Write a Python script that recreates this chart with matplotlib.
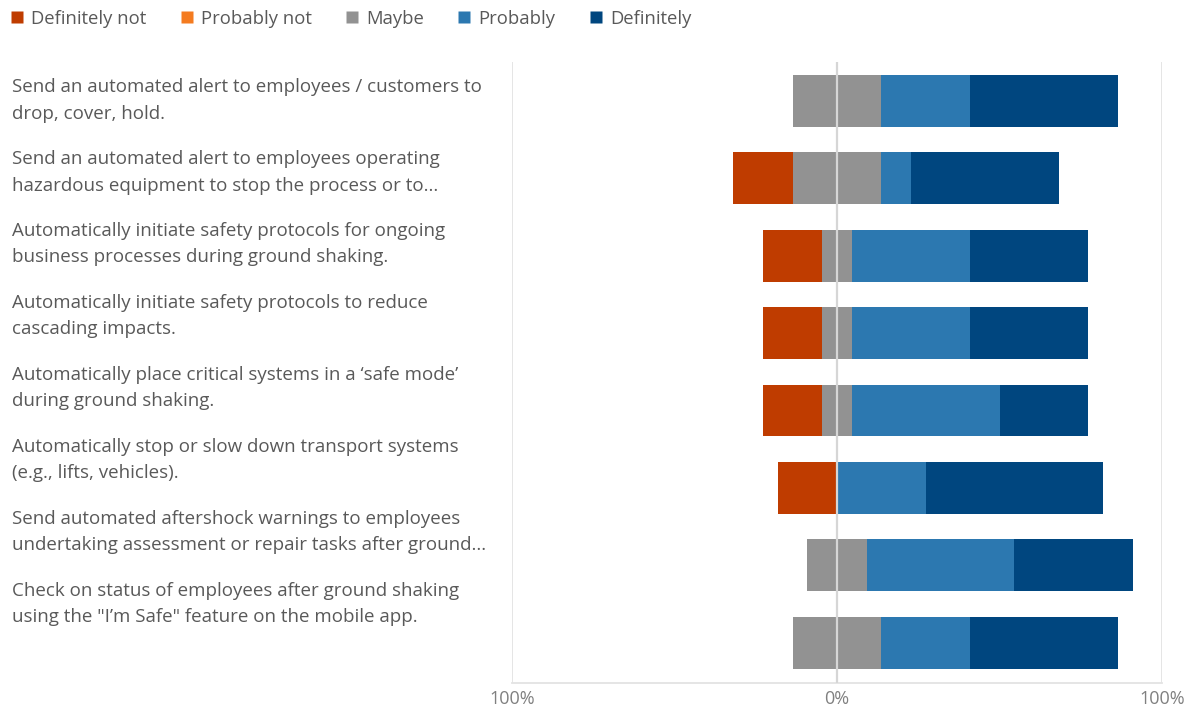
import matplotlib.pyplot as plt
from matplotlib.lines import Line2D
import numpy as np

plt.rcParams['font.family'] = ['Open Sans', 'DejaVu Sans']

# Survey items (as shown, labels already wrapped/truncated)
questions = [
    'Send an automated alert to employees / customers to\ndrop, cover, hold.',
    'Send an automated alert to employees operating\nhazardous equipment to stop the process or to...',
    'Automatically initiate safety protocols for ongoing\nbusiness processes during ground shaking.',
    'Automatically initiate safety protocols to reduce\ncascading impacts.',
    "Automatically place critical systems in a \u2018safe mode\u2019\nduring ground shaking.",
    'Automatically stop or slow down transport systems\n(e.g., lifts, vehicles).',
    'Send automated aftershock warnings to employees\nundertaking assessment or repair tasks after ground...',
    'Check on status of employees after ground shaking\nusing the "I\u2019m Safe" feature on the mobile app.',
]

# Share of responses (%), one value per bar
definitely_not = [0, 18.2, 18.2, 18.2, 18.2, 18.2, 0, 0]
probably_not = [0, 0, 0, 0, 0, 0, 0, 0]
maybe = [27.3, 27.3, 9.1, 9.1, 9.1, 0, 18.2, 27.3]
probably = [27.3, 9.1, 36.4, 36.4, 45.5, 27.3, 45.5, 27.3]
definitely = [45.5, 45.5, 36.4, 36.4, 27.3, 54.5, 36.4, 45.5]

categories = ['Definitely not', 'Probably not', 'Maybe', 'Probably', 'Definitely']
colors = ['#BF3C00', '#F47B20', '#929292', '#2C78B0', '#00467F']

fig = plt.figure(figsize=(11.97, 7.11), dpi=100)
W, H = 1197, 711
ax = fig.add_axes([512 / W, 1 - 683 / H, 650 / W, 621 / H])

y = np.arange(len(questions))
dn = np.array(definitely_not)
pn = np.array(probably_not)
mb = np.array(maybe)
pr = np.array(probably)
df = np.array(definitely)

# negative side starts left of zero by half of "maybe"
left = -(dn + pn + mb / 2)
h = 0.67
for vals, c in zip([dn, pn, mb, pr, df], colors):
    ax.barh(y, vals, left=left, height=h, color=c, edgecolor='none', zorder=2)
    left = left + vals

ax.set_xlim(-100, 100)
ax.set_ylim(len(questions) - 0.48, -0.5)
ax.set_xticks([-100, 0, 100])
ax.set_xticklabels(['100%', '0%', '100%'], color='#808080', fontsize=13)
ax.tick_params(axis='x', length=0, pad=5)
ax.set_yticks([])
for x in (-100, 100):
    ax.axvline(x, color='#e3e3e3', lw=1.3, zorder=1)
ax.axvline(0, color='#d6d6d6', lw=1.6, zorder=3)
for s in ['top', 'left', 'right']:
    ax.spines[s].set_visible(False)
ax.spines['bottom'].set_color('#e3e3e3')
ax.spines['bottom'].set_linewidth(1.3)

# question labels, laid out in their own column
for i, q in enumerate(questions):
    yc = 100.5 + 71.9 * i
    fig.text(12 / W, 1 - yc / H, q, ha='left', va='center', fontsize=13.5,
             color='#595959', linespacing=1.6)

handles = [Line2D([], [], marker='s', linestyle='none', markersize=8.5,
                  markerfacecolor=c, markeredgecolor='none') for c in colors]
fig.legend(handles, categories, loc='upper left', bbox_to_anchor=(-7 / W, 1 + 7 / H),
           ncol=5, frameon=False, fontsize=13.3, handlelength=0.8, handletextpad=0.35,
           columnspacing=1.8, labelcolor='#595959')

fig.savefig('out.png', dpi=100)
